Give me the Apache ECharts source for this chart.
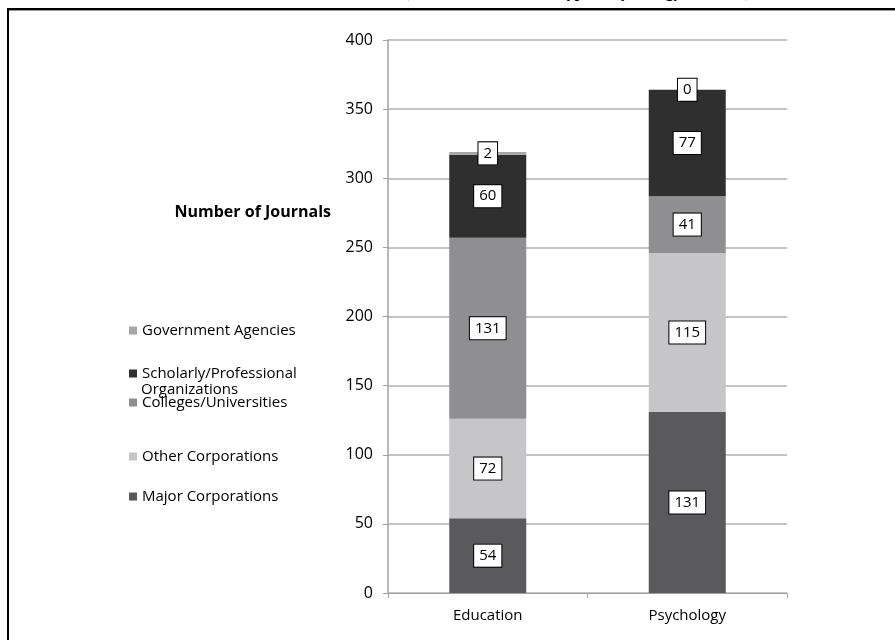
<!DOCTYPE html>
<html>
<head>
<meta charset="utf-8">
<script src="https://cdn.jsdelivr.net/npm/echarts@6/dist/echarts.min.js"></script>
<style>
html,body{margin:0;padding:0;background:#fff;}
#chart{width:895px;height:640px;}
</style>
</head>
<body>
<div id="chart"></div>
<script>
var categories = ['Education', 'Psychology'];
var seriesNames = ['Major Corporations', 'Other Corporations', 'Colleges/Universities', 'Scholarly/Professional Organizations', 'Government Agencies'];
var majorCorporations = [54, 131];
var otherCorporations = [72, 115];
var collegesUniversities = [131, 41];
var scholarlyProfessional = [60, 77];
var governmentAgencies = [2, 0];
var yTicks = {min: 0, max: 400, interval: 50};
var yAxisTitle = 'Number of Journals';
var topTitle = '(Education, Publisher Types, Psychology Journals)';

var colors = ['#5a5a5c', '#c6c6c8', '#8f8f91', '#2f2f2f', '#a7a7a9'];
var values = [majorCorporations, otherCorporations, collegesUniversities, scholarlyProfessional, governmentAgencies];
var FONT = '"Open Sans"';

var chart = echarts.init(document.getElementById('chart'));

var series = seriesNames.map(function (name, i) {
  return {
    name: name,
    type: 'bar',
    stack: 'total',
    barWidth: 77,
    data: values[i],
    itemStyle: {color: colors[i]},
    label: {
      show: true,
      position: 'inside',
      color: '#000',
      fontFamily: FONT,
      fontSize: 15,
      lineHeight: 19,
      backgroundColor: '#fff',
      borderColor: '#000',
      borderWidth: 1,
      padding: [2, 5, 1, 5]
    },
    emphasis: {disabled: true}
  };
});

var legendTops = {
  'Government Agencies': 316,
  'Scholarly/Professional Organizations': 359,
  'Colleges/Universities': 388,
  'Other Corporations': 442,
  'Major Corporations': 482
};
var legends = seriesNames.map(function (name) {
  return {
    data: [name],
    left: 124,
    top: legendTops[name],
    orient: 'vertical',
    icon: 'rect',
    itemWidth: 8,
    itemHeight: 8,
    itemGap: 0,
    selectedMode: false,
    formatter: function (n) {
      return n === 'Scholarly/Professional Organizations' ? 'Scholarly/Professional' : n;
    },
    textStyle: {fontFamily: FONT, fontSize: 15, color: '#000', lineHeight: 19}
  };
});

chart.setOption({
  animation: false,
  backgroundColor: '#fff',
  grid: {left: 388, right: 108, top: 40, bottom: 47},
  legend: legends,
  xAxis: {
    type: 'category',
    data: categories,
    axisLine: {lineStyle: {color: '#a0a0a0', width: 1}},
    axisTick: {show: true, length: 5, lineStyle: {color: '#a0a0a0'}},
    axisLabel: {color: '#000', fontFamily: FONT, fontSize: 15, margin: 15}
  },
  yAxis: {
    type: 'value',
    min: yTicks.min,
    max: yTicks.max,
    interval: yTicks.interval,
    axisLine: {show: true, lineStyle: {color: '#a0a0a0', width: 1.5}},
    axisTick: {show: true, length: 5, lineStyle: {color: '#a0a0a0'}},
    splitLine: {lineStyle: {color: '#b0b0b0', width: 1.5}},
    axisLabel: {color: '#000', fontFamily: FONT, fontSize: 16, margin: 15}
  },
  series: series,
  graphic: [
    {type: 'text', right: 895 - 331, top: 204, style: {text: yAxisTitle, font: 'bold 16px ' + FONT, fill: '#000'}},
    {type: 'text', left: 141, top: 382, style: {text: 'Organizations', font: '15px ' + FONT, fill: '#000'}},
    {type: 'text', left: 404, top: -15, style: {text: topTitle, font: 'bold 16px "Liberation Serif"', fill: '#000'}},
    {type: 'rect', shape: {x: 7, y: 8, width: 888, height: 2}, style: {fill: '#000'}, silent: true},
    {type: 'rect', shape: {x: 7, y: 10, width: 888, height: 1}, style: {fill: '#9a9a9a'}, silent: true},
    {type: 'rect', shape: {x: 7, y: 8, width: 2, height: 632}, style: {fill: '#000'}, silent: true}
  ]
});
</script>
</body>
</html>
